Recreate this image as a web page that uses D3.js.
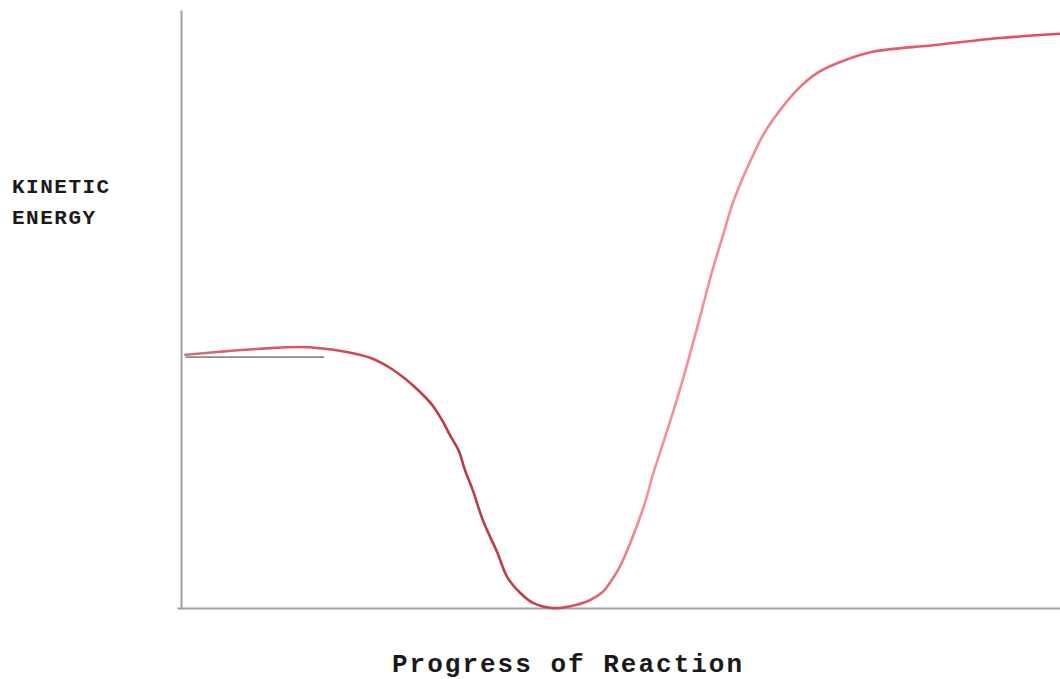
<!DOCTYPE html>
<html>
<head>
<meta charset="utf-8">
<script src="https://cdn.jsdelivr.net/npm/d3@7"></script>
<style>
  html, body { margin: 0; padding: 0; background: #fff; }
  svg { display: block; }
  .lbl { font-family: "Liberation Mono", "Courier New", monospace; font-weight: bold; fill: #1a1a1a; }
</style>
</head>
<body>
<svg id="chart" width="1060" height="679"></svg>
<script>
// Progress of reaction (0-100) and kinetic energy (0-100)
const progress = [
  0.5, 4.4, 9.0, 13.5, 15.8, 18.7, 21.5, 23.8, 25.5, 27.2,
  28.6, 29.7, 30.6, 31.6, 32.3, 33.2, 34.4, 36.0, 37.1, 38.6,
  40.1, 42.2, 44.3, 46.5, 48.0, 48.8, 49.9, 51.1, 52.8,
  53.7, 54.7, 55.9, 57.0, 58.7, 60.5, 61.7, 62.7,
  63.8, 65.0, 66.1, 67.3, 70.4, 72.4, 75.0, 78.7, 85.6, 93.2,
  100
];
const energy = [
  42.2, 42.7, 43.2, 43.5, 43.3, 42.7, 41.7, 40.0, 38.2, 36.0,
  33.8, 31.3, 28.8, 26.2, 23.0, 19.6, 14.4, 9.2, 5.2, 2.5,
  0.8, 0.0, 0.3, 1.3, 2.7, 4.2, 6.8, 10.8, 17.6,
  22.3, 26.8, 32.3, 37.6, 46.6, 56.5, 62.3, 67.2,
  71.3, 75.2, 78.5, 81.3, 86.8, 89.2, 91.0, 92.7, 93.8, 95.0,
  95.7
];
// initial energy reference level (short gray line)
const refProgress = [0.5, 16.3];
const refEnergy = [41.8, 41.8];
const yLabelLines = ["KINETIC", "ENERGY"];
const xLabel = "Progress of Reaction";

const svg = d3.select("#chart");
const x = d3.scaleLinear().domain([0, 100]).range([181, 1060]);
const y = d3.scaleLinear().domain([0, 100]).range([608, 8]);

// gradient along the curve
const defs = svg.append("defs");
const grad = defs.append("linearGradient")
  .attr("id", "curveGrad").attr("gradientUnits", "userSpaceOnUse")
  .attr("x1", x(0)).attr("x2", x(100)).attr("y1", 0).attr("y2", 0);
const stops = [
  [0, "#b08088"], [0.05, "#e0606e"], [0.2, "#d04a55"], [0.3, "#b83a42"],
  [0.42, "#c0444c"], [0.48, "#e06a78"], [0.53, "#f5909e"], [0.66, "#f38a98"],
  [0.74, "#e86070"], [1, "#e24a5a"]
];
stops.forEach(s => grad.append("stop").attr("offset", s[0]).attr("stop-color", s[1]));

// axes (bare lines, no ticks)
const axisY = d3.scaleLinear().domain([0, 1]).range([y(0), 10]);
svg.append("g").attr("transform", `translate(${x(0)},0)`)
  .call(d3.axisLeft(axisY).tickValues([]).tickSizeOuter(0))
  .select(".domain").attr("stroke", "#a0a0a0").attr("stroke-width", 2);
const axisX = d3.scaleLinear().domain([0, 1]).range([177, 1060]);
svg.append("g").attr("transform", `translate(0,${y(0)})`)
  .call(d3.axisBottom(axisX).tickValues([]).tickSizeOuter(0))
  .select(".domain").attr("stroke", "#a0a0a0").attr("stroke-width", 2);

// reference line
const refData = refProgress.map((p, i) => ({ p, e: refEnergy[i] }));
svg.append("path").datum(refData)
  .attr("fill", "none").attr("stroke", "#8a8a8a").attr("stroke-width", 1.8)
  .attr("d", d3.line().x(d => x(d.p)).y(d => y(d.e)));

// curve
const data = progress.map((p, i) => ({ p, e: energy[i] }));
svg.append("path").datum(data)
  .attr("fill", "none").attr("stroke", "url(#curveGrad)").attr("stroke-width", 2.6)
  .attr("stroke-linecap", "round")
  .attr("d", d3.line().x(d => x(d.p)).y(d => y(d.e)).curve(d3.curveCatmullRom.alpha(0.5)));

// labels
svg.append("text").attr("class", "lbl").attr("font-size", 21).attr("letter-spacing", 1.5)
  .selectAll("tspan").data(yLabelLines).join("tspan")
  .attr("x", 12).attr("y", (d, i) => 193 + i * 31).text(d => d);

svg.append("text").attr("class", "lbl").attr("font-size", 26).attr("letter-spacing", 2)
  .attr("x", 392).attr("y", 672).text(xLabel);
</script>
</body>
</html>
